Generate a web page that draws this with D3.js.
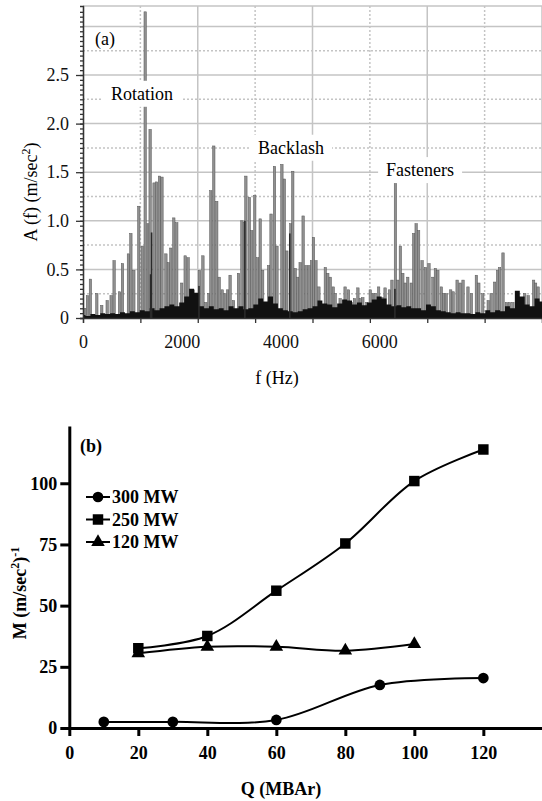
<!DOCTYPE html>
<html>
<head>
<meta charset="utf-8">
<script src="https://cdn.jsdelivr.net/npm/d3@7"></script>
<style>
  body { margin: 0; background: #fff; }
  svg { display: block; }
  text { font-family: "Liberation Serif", "Times New Roman", serif; }
</style>
</head>
<body>
<div id="chart"></div>
<script>
// ---- panel (a): spectrum ----
const freqTicks = [0, 2000, 4000, 6000];
const ampTicks = [0, 0.5, 1.0, 1.5, 2.0, 2.5];

// [Hz, amplitude] of the grey lines
const rotationBars = [[40,0.10],[90,0.23],[150,0.40],[280,0.25],[380,0.13],[490,0.18],[570,0.23],[630,0.59],[740,0.27],[800,0.56],[920,0.66],[970,0.87],[1030,0.49],[1130,1.15],[1200,0.74],[1260,3.15],[1320,0.97],[1360,1.94],[1440,1.39],[1490,1.40],[1550,1.46],[1600,1.45],[1680,0.66],[1730,0.57],[1780,0.72],[1840,1.03],[1900,0.98],[2000,0.36],[2070,0.64],[2130,0.62],[2230,0.29]];
const backlashBars = [[2360,0.49],[2430,0.64],[2490,0.16],[2550,0.25],[2590,1.31],[2650,1.77],[2710,1.20],[2760,0.42],[2820,0.29],[2880,0.25],[2930,0.29],[2980,0.44],[3050,0.18],[3150,0.46],[3220,1.00],[3270,0.98],[3300,1.46],[3370,1.24],[3420,0.90],[3480,1.26],[3540,0.62],[3590,1.02],[3640,0.49],[3760,0.54],[3810,1.07],[3880,1.56],[3930,0.74],[4030,1.58],[4080,1.43],[4130,0.69],[4210,0.97],[4250,1.51],[4300,0.51],[4350,0.42],[4400,0.57],[4460,1.05],[4520,0.54],[4580,0.54],[4630,0.59],[4670,0.83],[4720,0.59],[4780,0.32]];
const fastenerBars = [[4910,0.52],[4960,0.46],[5010,0.42],[5070,0.32],[5110,0.25],[5210,0.20],[5310,0.32],[5380,0.29],[5440,0.16],[5500,0.20],[5570,0.31],[5620,0.20],[5670,0.21],[5750,0.16],[5820,0.29],[5880,0.25],[5920,0.25],[5990,0.32],[6060,0.21],[6120,0.31],[6210,0.29],[6260,0.39],[6330,1.39],[6380,0.39],[6430,0.74],[6480,0.46],[6530,0.36],[6580,0.42],[6650,0.36],[6700,0.87],[6750,0.97],[6800,0.90],[6870,0.59],[6940,0.52],[7010,0.56]];
const upperBars = [[7090,0.42],[7140,0.51],[7190,0.49],[7260,0.32],[7310,0.25],[7360,0.25],[7450,0.29],[7500,0.27],[7580,0.39],[7640,0.36],[7700,0.39],[7800,0.32],[7870,0.25],[7970,0.44],[8020,0.36],[8100,0.25],[8210,0.18],[8270,0.25],[8340,0.37],[8400,0.49],[8440,0.52],[8510,0.67],[8580,0.16],[8640,0.16],[8710,0.16],[8850,0.18],[8950,0.25],[9020,0.23],[9130,0.39],[9170,0.36],[9220,0.32]];

// black floor, one value every 100 Hz from 0 Hz
const blackLevel = [0.03,0.02,0.04,0.03,0.05,0.04,0.05,0.04,0.06,0.05,0.07,0.06,0.08,0.07,0.10,0.08,0.10,0.12,0.14,0.12,0.16,0.22,0.30,0.26,0.12,0.10,0.12,0.09,0.10,0.08,0.12,0.10,0.12,0.09,0.10,0.14,0.20,0.17,0.22,0.15,0.10,0.08,0.07,0.06,0.07,0.09,0.10,0.12,0.18,0.15,0.14,0.11,0.15,0.19,0.18,0.14,0.16,0.13,0.16,0.19,0.22,0.20,0.14,0.12,0.13,0.11,0.12,0.10,0.10,0.08,0.14,0.12,0.08,0.07,0.06,0.05,0.06,0.05,0.05,0.04,0.06,0.05,0.08,0.06,0.08,0.07,0.12,0.10,0.28,0.22,0.14,0.12,0.20,0.17,0.17,0.15,0.20,0.17,0.12,0.10,0.15,0.13,0.12,0.10,0.14,0.12,0.08,0.07,0.18,0.16,0.20,0.17,0.08,0.07,0.14,0.12,0.16,0.12,0.10,0.08,0.12,0.10,0.14,0.12,0.10,0.10,0.12,0.10,0.14,0.12,0.10,0.08,0.12,0.10,0.14,0.11,0.10,0.08,0.12,0.10,0.14,0.12,0.10,0.09,0.12,0.10,0.14,0.12,0.11,0.10,0.12,0.10,0.13,0.12,0.11,0.10,0.12,0.10,0.13,0.12,0.14,0.12,0.10,0.12,0.15,0.13,0.12,0.10,0.12,0.10,0.13,0.12,0.10,0.09,0.12,0.10,0.15,0.14,0.12,0.10,0.12,0.11,0.14,0.12,0.10,0.09].slice(0, 94);
const blackSpikes = [[1370,0.45],[1390,0.88],[2350,0.33],[3280,1.0],[4190,0.87],[6320,0.30]];

const notesA = ["(a)", "Rotation", "Backlash", "Fasteners"];

// ---- panel (b) ----
const qTicks = [0, 20, 40, 60, 80, 100, 120];
const mTicks = [0, 25, 50, 75, 100];
const seriesNames = ["300 MW", "250 MW", "120 MW"];
const q300 = [10, 30, 60, 90, 120];
const m300 = [2.5, 2.5, 3.3, 17.6, 20.4];
const q250 = [20, 40, 60, 80, 100, 120];
const m250 = [32.6, 37.6, 56.1, 75.4, 100.9, 113.8];
const q120 = [20, 40, 60, 80, 100];
const m120 = [30.5, 33.2, 33.2, 31.6, 34.3];

const width = 542, height = 801;
const serif = '"Liberation Serif", "Times New Roman", serif';
const svg = d3.select("#chart").append("svg")
    .attr("width", width).attr("height", height);

// ================= panel (a) =================
const x = d3.scaleLinear().domain([0, 9300]).range([83, 542]);
const grid = d3.scaleLinear().domain([0, 8]).range([83, 542]);
const y = d3.scaleLinear().domain([0, 3.21]).range([318, 6]);

const ga = svg.append("g");

// grid
d3.range(0.25, 3.01, 0.25).forEach(function (v) {
    const solid = Math.abs(v / 0.5 - Math.round(v / 0.5)) < 1e-6;
    ga.append("line")
        .attr("x1", 83).attr("x2", 542)
        .attr("y1", y(v)).attr("y2", y(v))
        .style("stroke", "#c4c4c4").style("stroke-width", 1.5)
        .style("stroke-dasharray", solid ? null : "2,2");
});
d3.range(1, 9).forEach(function (k) {
    ga.append("line")
        .attr("x1", grid(k)).attr("x2", grid(k))
        .attr("y1", 6).attr("y2", 318)
        .style("stroke", "#c4c4c4").style("stroke-width", 1.5)
        .style("stroke-dasharray", k % 2 ? "2,2" : null);
});
ga.append("line")
    .attr("x1", 83).attr("x2", 542).attr("y1", 6).attr("y2", 6)
    .style("stroke", "#c4c4c4").style("stroke-width", 1.5);

// grey lines
const allBars = rotationBars.concat(backlashBars, fastenerBars, upperBars);
ga.selectAll("rect.bar").data(allBars).enter().append("rect")
    .attr("class", "bar")
    .attr("x", d => x(d[0]) - 1.2)
    .attr("width", 2.4)
    .attr("y", d => y(d[1]))
    .attr("height", d => y(0) - y(d[1]))
    .style("fill", "#909090").style("stroke", "#555").style("stroke-width", 0.5);

// black floor
ga.append("path")
    .datum(blackLevel)
    .attr("d", d3.area().curve(d3.curveStep)
        .x((d, i) => x(i * 100)).y0(y(0)).y1(d => y(d)))
    .style("fill", "#111");
ga.selectAll("rect.spike").data(blackSpikes).enter().append("rect")
    .attr("class", "spike")
    .attr("x", d => x(d[0]) - 0.8)
    .attr("width", 1.6)
    .attr("y", d => y(d[1]))
    .attr("height", d => y(0) - y(d[1]))
    .style("fill", "#2a2a2a");

// annotations (text centre in Hz, baseline in amplitude)
const notePos = [[243, 2.81, "start"], [1195, 2.245, "middle"], [4215, 1.69, "middle"], [6830, 1.46, "middle"]];
notesA.forEach(function (t, i) {
    const p = notePos[i];
    const txt = ga.append("text")
        .attr("x", x(p[0])).attr("y", y(p[1]))
        .attr("text-anchor", p[2])
        .style("font-size", "18px").text(t);
    if (i > 0) {
        const b = txt.node().getBBox();
        ga.insert("rect", () => txt.node())
            .attr("x", b.x - 8).attr("y", b.y - 3)
            .attr("width", b.width + 16).attr("height", b.height + 6)
            .style("fill", "#fff");
    }
});

// axes
const yAxisMinor = ga.append("g").attr("transform", "translate(83,0)")
    .call(d3.axisLeft(y).tickValues(d3.range(0, 3.2, 0.05)).tickSize(3).tickFormat(""));
const yAxis = ga.append("g").attr("transform", "translate(83,0)")
    .call(d3.axisLeft(y).tickValues(ampTicks).tickSizeInner(7).tickSizeOuter(0).tickPadding(7)
        .tickFormat(d => d === 0 ? "0" : d3.format(".1f")(d)));
const xAxisTicks = ga.append("g").attr("transform", "translate(0,318)")
    .call(d3.axisBottom(grid).tickValues(d3.range(0, 9)).tickSize(5).tickFormat(""));
const xAxis = ga.append("g").attr("transform", "translate(0,318)")
    .call(d3.axisBottom(x).tickValues(freqTicks).tickSize(0).tickPadding(17).tickFormat(d3.format("d")));
xAxis.select(".domain").remove();
[yAxisMinor, yAxis, xAxisTicks, xAxis].forEach(function (a) {
    a.attr("font-family", serif);
    a.selectAll("path, line").style("stroke", "#333").style("stroke-width", 1.3);
});
ga.selectAll(".tick text")
    .style("font-family", serif)
    .style("font-size", "18px").style("fill", "#111");

const yLabA = ga.append("text")
    .attr("transform", "translate(37,192) rotate(-90)")
    .attr("text-anchor", "middle").style("font-size", "18px");
yLabA.append("tspan").text("A (f) (m/sec");
yLabA.append("tspan").attr("dy", -7).style("font-size", "12px").text("2");
yLabA.append("tspan").attr("dy", 7).text(")");
ga.append("text").attr("x", 277).attr("y", 384).attr("text-anchor", "middle")
    .style("font-size", "18px").text("f (Hz)");

// ================= panel (b) =================
const xb = d3.scaleLinear().domain([0, 137]).range([69.3, 542]);
const yb = d3.scaleLinear().domain([0, 123.4]).range([728, 426]);
const gb = svg.append("g");

const axB = gb.append("g").attr("transform", "translate(69.3,0)")
    .call(d3.axisLeft(yb).tickValues(mTicks).tickSizeInner(9).tickSizeOuter(0).tickPadding(3));
const axBx = gb.append("g").attr("transform", "translate(0,728)")
    .call(d3.axisBottom(xb).tickValues(qTicks).tickSizeInner(8).tickSizeOuter(0).tickPadding(10));
[axB, axBx].forEach(function (a) {
    a.attr("font-family", serif);
    a.selectAll("path, line").style("stroke", "#000").style("stroke-width", 3);
    a.selectAll("text").style("font-family", serif)
        .style("font-size", "18px").style("font-weight", "bold").style("fill", "#000");
});

const line = d3.line().curve(d3.curveCatmullRom.alpha(0.5))
    .x(d => xb(d[0])).y(d => yb(d[1]));
const series = [
    { name: seriesNames[0], pts: d3.zip(q300, m300), sym: d3.symbolCircle, size: 90 },
    { name: seriesNames[1], pts: d3.zip(q250, m250), sym: d3.symbolSquare, size: 110 },
    { name: seriesNames[2], pts: d3.zip(q120, m120), sym: d3.symbolTriangle, size: 80 }
];
series.forEach(function (s) {
    gb.append("path").datum(s.pts).attr("d", line)
        .style("fill", "none").style("stroke", "#000").style("stroke-width", 2);
    gb.selectAll(null).data(s.pts).enter().append("path")
        .attr("transform", d => "translate(" + xb(d[0]) + "," + yb(d[1]) + ")")
        .attr("d", d3.symbol().type(s.sym).size(s.size))
        .style("fill", "#000");
});

// legend
series.forEach(function (s, i) {
    const cy = 497 + i * 22.5;
    gb.append("line").attr("x1", 86).attr("x2", 110).attr("y1", cy).attr("y2", cy)
        .style("stroke", "#000").style("stroke-width", 2);
    gb.append("path").attr("transform", "translate(98," + cy + ")")
        .attr("d", d3.symbol().type(s.sym).size(s.size)).style("fill", "#000");
    gb.append("text").attr("x", 112).attr("y", cy + 6)
        .style("font-size", "18px").style("font-weight", "bold").text(s.name);
});

gb.append("text").attr("x", 80).attr("y", 452)
    .style("font-size", "18px").style("font-weight", "bold").text("(b)");

const yLabB = gb.append("text")
    .attr("transform", "translate(26,593) rotate(-90)")
    .attr("text-anchor", "middle").style("font-size", "18px").style("font-weight", "bold");
yLabB.append("tspan").text("M (m/sec");
yLabB.append("tspan").attr("dy", -7).style("font-size", "12px").text("2");
yLabB.append("tspan").attr("dy", 7).text(")");
yLabB.append("tspan").attr("dy", -7).style("font-size", "12px").text("-1");

gb.append("text").attr("x", 281).attr("y", 795).attr("text-anchor", "middle")
    .style("font-size", "18px").style("font-weight", "bold").text("Q (MBAr)");
</script>
</body>
</html>
